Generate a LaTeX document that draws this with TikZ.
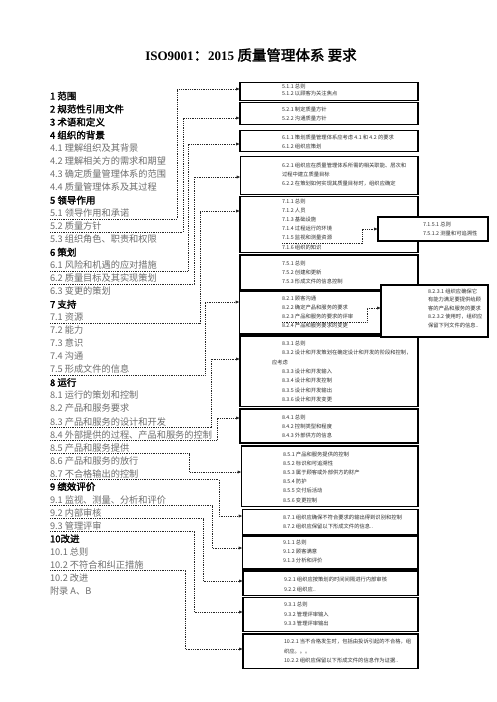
\documentclass[tikz,border=0pt]{standalone}
\usepackage{fontspec}
\usetikzlibrary{arrows.meta}
\newfontfamily\cjk[AutoFakeBold=2]{Noto Sans CJK SC}
\newfontfamily\ttlfont{Liberation Serif}
\definecolor{itemgray}{HTML}{6E6E6E}
\definecolor{boxtext}{HTML}{303030}
\tikzset{
  hitem/.style={anchor=west, inner sep=0pt, outer sep=0pt, font=\cjk\bfseries\fontsize{9.5}{9.5}\selectfont, text height=7.2pt, text depth=0pt},
  sitem/.style={anchor=west, inner sep=0pt, outer sep=0pt, font=\cjk\fontsize{9.2}{9.2}\selectfont, text=itemgray, text height=7pt, text depth=0pt},
  mbox/.style={draw=black, line width=1.1pt, fill=white, inner sep=0pt, outer sep=0pt, anchor=north west},
  btxt/.style={anchor=west, inner sep=0pt, outer sep=0pt, font=\cjk\fontsize{5.3}{5.3}\selectfont, text=boxtext, text height=4pt, text depth=0pt},
  dline/.style={line width=0.7pt, black!85, dash pattern=on 0.9pt off 0.9pt},
  conn/.style={dline, -{Latex[length=3.8pt,width=3.2pt]}},
}
\begin{document}
\begin{tikzpicture}[x=1pt,y=-1pt]
\fill[white] (0,0) rectangle (496,702);
\useasboundingbox (0,0) rectangle (496,702);

% title
\node[inner sep=0pt] (title) at (251,55) {\bfseries{\ttlfont\fontsize{13}{13}\selectfont ISO9001}{\cjk\fontsize{14.5}{14.5}\selectfont ：}{\ttlfont\fontsize{13}{13}\selectfont 2015 }{\cjk\fontsize{14.5}{14.5}\selectfont 质量管理体系\ 要求}};

% left column
\node[hitem] (L0) at (50,96.00) {1 范围};
\node[hitem] (L1) at (50,109.02) {2 规范性引用文件};
\node[hitem] (L2) at (50,122.04) {3 术语和定义};
\node[hitem] (L3) at (50,135.06) {4 组织的背景};
\node[sitem] (L4) at (50,148.08) {4.1 理解组织及其背景};
\node[sitem] (L5) at (50,161.10) {4.2 理解相关方的需求和期望};
\node[sitem] (L6) at (50,174.12) {4.3 确定质量管理体系的范围};
\node[sitem] (L7) at (50,187.14) {4.4 质量管理体系及其过程};
\node[hitem] (L8) at (50,200.16) {5 领导作用};
\node[sitem] (L9) at (50,213.18) {5.1 领导作用和承诺};
\node[sitem] (L10) at (50,226.20) {5.2 质量方针};
\node[sitem] (L11) at (50,239.22) {5.3 组织角色、职责和权限};
\node[hitem] (L12) at (50,252.24) {6 策划};
\node[sitem] (L13) at (50,265.26) {6.1 风险和机遇的应对措施};
\node[sitem] (L14) at (50,278.28) {6.2 质量目标及其实现策划};
\node[sitem] (L15) at (50,291.30) {6.3 变更的策划};
\node[hitem] (L16) at (50,304.32) {7 支持};
\node[sitem] (L17) at (50,317.34) {7.1 资源};
\node[sitem] (L18) at (50,330.36) {7.2 能力};
\node[sitem] (L19) at (50,343.38) {7.3 意识};
\node[sitem] (L20) at (50,356.40) {7.4 沟通};
\node[sitem] (L21) at (50,369.42) {7.5 形成文件的信息};
\node[hitem] (L22) at (50,382.44) {8 运行};
\node[sitem] (L23) at (50,395.46) {8.1 运行的策划和控制};
\node[sitem] (L24) at (50,408.48) {8.2 产品和服务要求};
\node[sitem] (L25) at (50,421.50) {8.3 产品和服务的设计和开发};
\node[sitem] (L26) at (50,434.52) {8.4 外部提供的过程、产品和服务的控制};
\node[sitem] (L27) at (50,447.54) {8.5 产品和服务提供};
\node[sitem] (L28) at (50,460.56) {8.6 产品和服务的放行};
\node[sitem] (L29) at (50,473.58) {8.7 不合格输出的控制};
\node[hitem] (L30) at (50,486.60) {9 绩效评价};
\node[sitem] (L31) at (50,499.62) {9.1 监视、测量、分析和评价};
\node[sitem] (L32) at (50,512.64) {9.2 内部审核};
\node[sitem] (L33) at (50,525.66) {9.3 管理评审};
\node[hitem] (L34) at (50,538.68) {10改进};
\node[sitem] (L35) at (50,551.70) {10.1 总则};
\node[sitem] (L36) at (50,564.72) {10.2 不符合和纠正措施};
\node[sitem] (L37) at (50,577.74) {10.2 改进};
\node[sitem] (L38) at (50,590.76) {附录 A、B};

% main boxes
\node[mbox, minimum width=178pt, minimum height=18pt] (b1) at (240,82.5) {};
\node[mbox, minimum width=178pt, minimum height=22pt] (b2) at (240,102.5) {};
\node[mbox, minimum width=178pt, minimum height=21pt] (b3) at (240,130.5) {};
\node[mbox, minimum width=177.5pt, minimum height=38pt] (b4) at (240.5,156.5) {};
\node[mbox, minimum width=178pt, minimum height=56pt] (b5) at (240,196.5) {};
\node[mbox, minimum width=178pt, minimum height=34.5pt] (b6) at (240,255) {};
\node[mbox, minimum width=178.5pt, minimum height=43pt] (b7) at (239.5,291) {};
\node[mbox, minimum width=178pt, minimum height=70.5pt] (b8) at (240,336) {};
\node[mbox, minimum width=178pt, minimum height=34pt] (b9) at (240,409) {};
\node[mbox, minimum width=176.5pt, minimum height=60.5pt] (b10) at (241.5,446) {};
\node[mbox, minimum width=175.5pt, minimum height=25pt] (b11) at (242.5,509.3) {};
\node[mbox, minimum width=175.5pt, minimum height=33pt] (b12) at (242.5,536) {};
\node[mbox, minimum width=175pt, minimum height=24.5pt] (b13) at (243,571) {};
\node[mbox, minimum width=175pt, minimum height=34pt] (b14) at (243,597.5) {};
\node[mbox, minimum width=175pt, minimum height=34.5pt] (b15) at (243,634) {};

% box texts
\node[btxt] (t1a) at (282,86) {5.1.1 总则};
\node[btxt] (t1b) at (282,93.5) {5.1.2 以顾客为关注焦点};
\node[btxt] (t2a) at (282,109.5) {5.2.1 制定质量方针};
\node[btxt] (t2b) at (282,118.3) {5.2.2 沟通质量方针};
\node[btxt] (t3a) at (282,137) {6.1.1 策划质量管理体系应考虑 4.1 和 4.2 的要求};
\node[btxt] (t3b) at (282,146) {6.1.2 组织应策划};
\node[btxt] (t4a) at (282,165) {6.2.1 组织应在质量管理体系所需的相关职能、层次和};
\node[btxt] (t4b) at (282,174.3) {过程中建立质量目标};
\node[btxt] (t4c) at (282,183.3) {6.2.2 在策划如何实现其质量目标时，组织应确定};
\node[btxt] (t5a) at (282,201) {7.1.1 总则};
\node[btxt] (t5b) at (282,210) {7.1.2 人员};
\node[btxt] (t5c) at (282,219.5) {7.1.3 基础设施};
\node[btxt] (t5d) at (282,228.5) {7.1.4 过程运行的环境};
\node[btxt] (t5e) at (282,237.7) {7.1.5 监视和测量资源};
\node[btxt] (t5f) at (282,247) {7.1.6 组织的知识};
\node[btxt] (t6a) at (282,263.3) {7.5.1 总则};
\node[btxt] (t6b) at (282,272.3) {7.5.2 创建和更新};
\node[btxt] (t6c) at (282,281) {7.5.3 形成文件的信息控制};
\node[btxt] (t7a) at (282,298) {8.2.1 顾客沟通};
\node[btxt] (t7b) at (282,307) {8.2.2 确定产品和服务的要求};
\node[btxt] (t7c) at (282,316) {8.2.3 产品和服务的要求的评审};
\node[btxt] (t7d) at (282,325.5) {8.2.4 产品和服务要求的变更};
\node[btxt] (t8a) at (282,343.3) {8.3.1 总则};
\node[btxt] (t8b) at (282,352.8) {8.3.2 设计和开发策划在确定设计和开发的阶段和控制，};
\node[btxt] (t8c) at (272,362) {应考虑};
\node[btxt] (t8d) at (282,371.5) {8.3.3 设计和开发输入};
\node[btxt] (t8e) at (282,380.8) {8.3.4 设计和开发控制};
\node[btxt] (t8f) at (282,390) {8.3.5 设计和开发输出};
\node[btxt] (t8g) at (282,399) {8.3.6 设计和开发变更};
\node[btxt] (t9a) at (282,417.3) {8.4.1 总则};
\node[btxt] (t9b) at (282,426.3) {8.4.2 控制类型和程度};
\node[btxt] (t9c) at (282,435) {8.4.3 外部供方的信息};
\node[btxt] (t10a) at (283,454) {8.5.1 产品和服务提供的控制};
\node[btxt] (t10b) at (283,463) {8.5.2 标识和可追溯性};
\node[btxt] (t10c) at (283,472.3) {8.5.3 属于顾客或外部供方的财产};
\node[btxt] (t10d) at (283,481.5) {8.5.4 防护};
\node[btxt] (t10e) at (283,490.7) {8.5.5 交付后活动};
\node[btxt] (t10f) at (283,500) {8.5.6 变更控制};
\node[btxt] (t11a) at (283,517.3) {8.7.1 组织应确保不符合要求的输出得到识别和控制};
\node[btxt] (t11b) at (283,526) {8.7.2 组织应保留以下形成文件的信息..};
\node[btxt] (t12a) at (283,542) {9.1.1 总则};
\node[btxt] (t12b) at (283,551) {9.1.2 顾客满意};
\node[btxt] (t12c) at (283,560) {9.1.3 分析和评价};
\node[btxt] (t13a) at (284,579) {9.2.1 组织应按策划的时间间隔进行内部审核};
\node[btxt] (t13b) at (284,589) {9.2.2 组织应..};
\node[btxt] (t14a) at (284,604.5) {9.3.1 总则};
\node[btxt] (t14b) at (284,614.5) {9.3.2 管理评审输入};
\node[btxt] (t14c) at (284,623.5) {9.3.3 管理评审输出};
\node[btxt] (t15a) at (284,641) {10.2.1 当不合格发生时，包括由投诉引起的不合格，组};
\node[btxt] (t15b) at (284,651) {织应。。。};
\node[btxt] (t15c) at (284,660.5) {10.2.2 组织应保留以下形成文件的信息作为证据..};

% sub boxes
\node[mbox, minimum width=110pt, minimum height=24pt] (s1) at (378,217) {};
\node[btxt] (s1a) at (423,224.5) {7.1.5.1 总则};
\node[btxt] (s1b) at (423,233) {7.5.1.2 测量和可追溯性};
\node[mbox, minimum width=107pt, minimum height=52pt] (s2) at (381,285) {};
\node[btxt] (s2a) at (428,291) {8.2.3.1 组织应确保它};
\node[btxt] (s2b) at (428,299.5) {有能力满足要提供给顾};
\node[btxt] (s2c) at (428,308) {客的产品和服务的要求};
\node[btxt] (s2d) at (428,316.5) {8.2.3.2 使用时，组织应};
\node[btxt] (s2e) at (428,325) {保留下列文件的信息..};

% connector start points and target levels
\coordinate (u1) at (50,219);   \coordinate (y1) at (0,89);
\coordinate (u2) at (50,232);   \coordinate (y2) at (0,118);
\coordinate (u3) at (50,271);   \coordinate (y3) at (0,144);
\coordinate (u4) at (50,284);   \coordinate (y4) at (0,177);
\coordinate (u5) at (50,323.5); \coordinate (y5) at (0,211);
\coordinate (u6) at (50,375.5); \coordinate (y6) at (0,302);
\coordinate (u7) at (50,427.5); \coordinate (y7) at (0,359);
\coordinate (u8) at (50,440.5); \coordinate (y8) at (0,418);
\coordinate (u9) at (50,453.5); \coordinate (y9) at (0,472);
\coordinate (u10) at (50,479.6); \coordinate (y10) at (0,516);
\coordinate (u11) at (50,505.6); \coordinate (y11) at (0,548);
\coordinate (u12) at (50,518.6); \coordinate (y12) at (0,581);
\coordinate (u13) at (50,531.7); \coordinate (y13) at (0,612);
\coordinate (u14) at (50,570.7); \coordinate (y14) at (0,649);
\coordinate (u15) at (282,243); \coordinate (y15) at (0,229);
\coordinate (u16) at (282,322); \coordinate (y16) at (0,308);

\draw[conn] (u1) -- ++(127,0) |- (b1.west |- y1);
\draw[conn] (u2) -- ++(133,0) |- (b2.west |- y2);
\draw[conn] (u3) -- ++(138,0) |- (b3.west |- y3);
\draw[conn] (u4) -- ++(144,0) |- (b4.west |- y4);
\draw[conn] (u5) -- ++(150,0) |- (b5.west |- y5);
\draw[conn] (u6) -- ++(155,0) |- (b7.west |- y6);
\draw[conn] (u7) -- ++(161,0) |- (b8.west |- y7);
\draw[conn] (u8) -- ++(167,0) |- (b9.west |- y8);
\draw[conn] (u9) -- ++(139,0) |- (b10.west |- y9);
\draw[conn] (u10) -- ++(169,0) |- (b11.west |- y10);
\draw[conn] (u11) -- ++(162,0) |- (b12.west |- y11);
\draw[conn] (u12) -- ++(153,0) |- (b13.west |- y12);
\draw[conn] (u13) -- ++(144,0) |- (b14.west |- y13);
\draw[conn] (u14) -- ++(135,0) |- (b15.west |- y14);
\draw[conn] (u15) -- ++(80,0) |- (s1.west |- y15);
\draw[conn] (u16) -- ++(85,0) |- (s2.west |- y16);
\end{tikzpicture}
\end{document}
